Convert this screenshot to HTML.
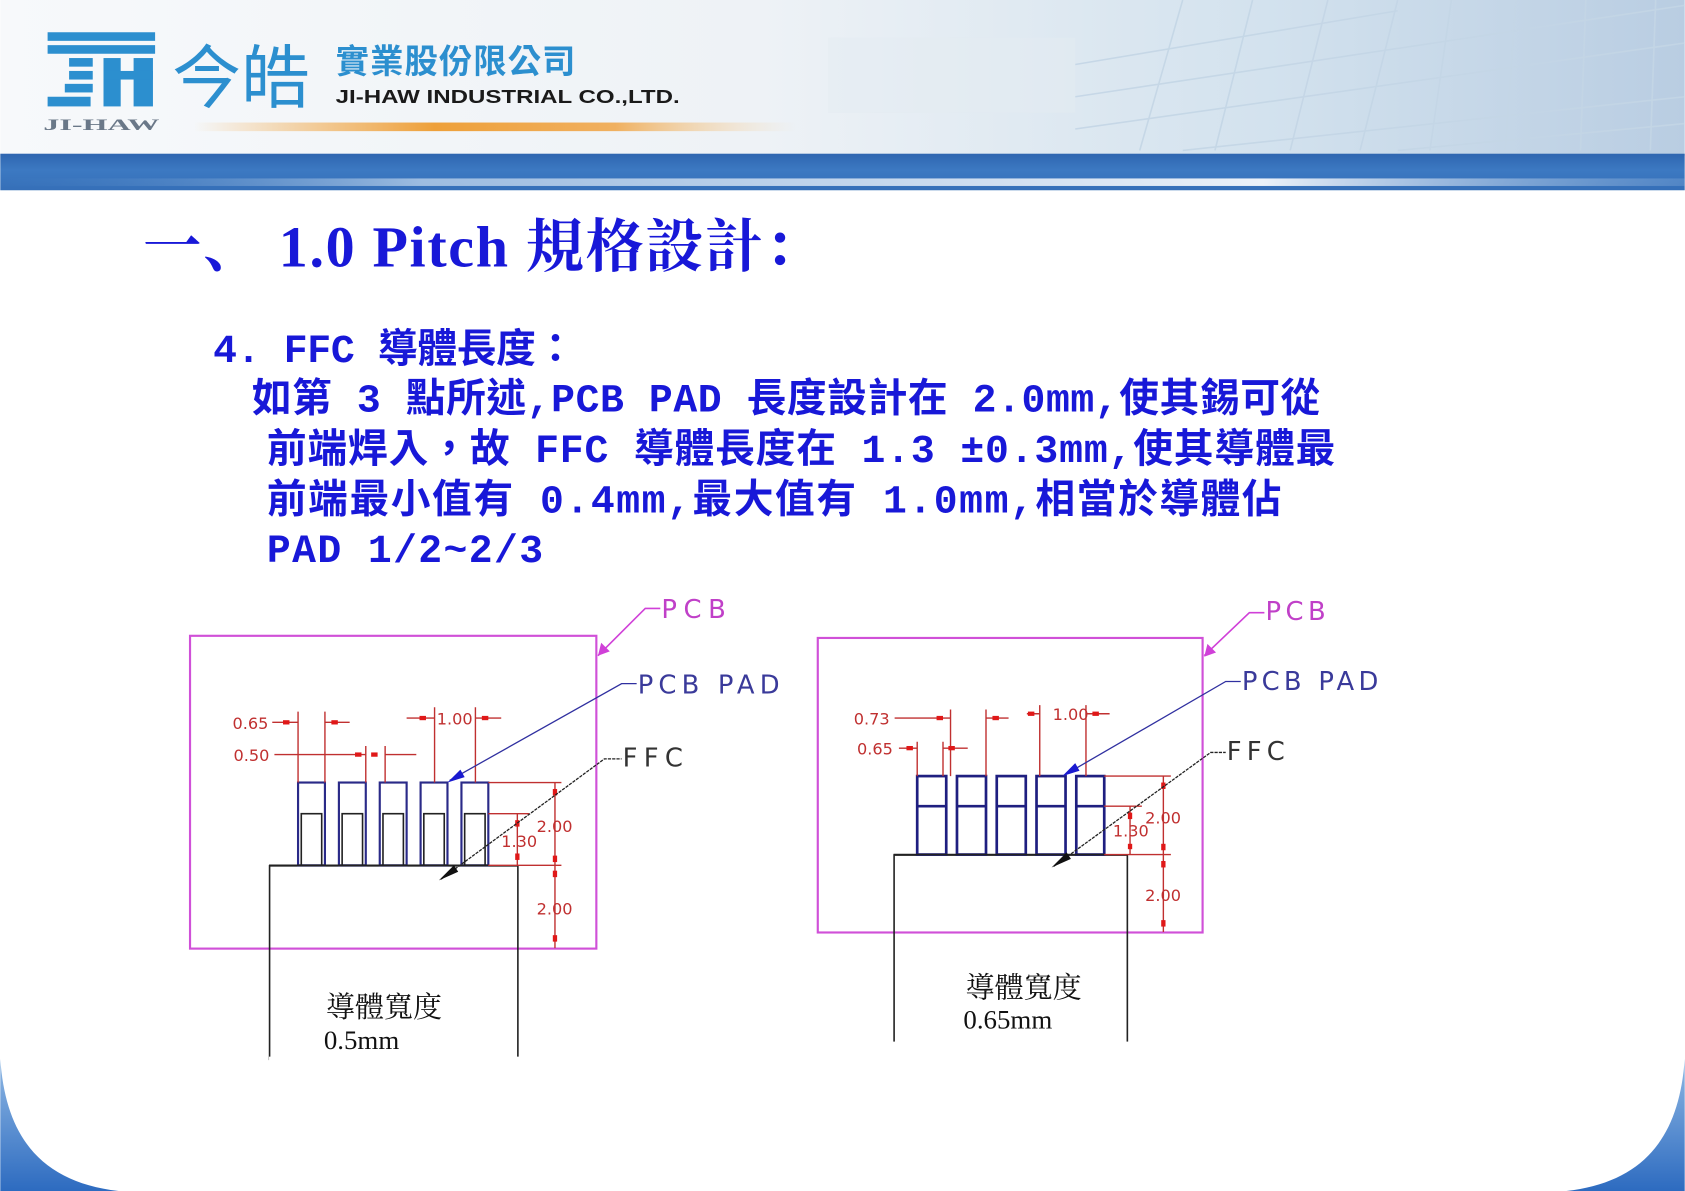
<!DOCTYPE html>
<html><head><meta charset="utf-8"><style>
html,body{margin:0;padding:0;background:#fff;}
svg{display:block;}
.cad{font-family:"DejaVu Sans","Liberation Sans",sans-serif;}
</style></head><body>
<svg width="1685" height="1191" viewBox="0 0 1567 1108" xmlns="http://www.w3.org/2000/svg">
<defs>
<linearGradient id="hdr" x1="0" y1="0" x2="1" y2="0">
<stop offset="0" stop-color="#f7f9fb"/><stop offset="0.45" stop-color="#eef2f6"/><stop offset="0.75" stop-color="#d3e2ee"/><stop offset="1" stop-color="#b9cde2"/></linearGradient>
<linearGradient id="band" x1="0" y1="0" x2="0" y2="1">
<stop offset="0" stop-color="#2f66b0"/><stop offset="0.45" stop-color="#3c79c2"/><stop offset="1" stop-color="#356fb8"/></linearGradient>
<linearGradient id="streak" x1="0" y1="0" x2="1" y2="0">
<stop offset="0" stop-color="#4f86c6" stop-opacity="0"/><stop offset="0.25" stop-color="#c9dcf0" stop-opacity="0.7"/><stop offset="0.75" stop-color="#ffffff" stop-opacity="0.9"/><stop offset="1" stop-color="#8fb3dd" stop-opacity="0.3"/></linearGradient>
<linearGradient id="orange" x1="0" y1="0" x2="1" y2="0">
<stop offset="0" stop-color="#f3a33a" stop-opacity="0"/><stop offset="0.4" stop-color="#eea03a"/><stop offset="0.7" stop-color="#f0b060"/><stop offset="1" stop-color="#f4d9b0" stop-opacity="0"/></linearGradient>
<linearGradient id="corner" x1="0" y1="0" x2="0" y2="1">
<stop offset="0" stop-color="#8fb8e4"/><stop offset="1" stop-color="#2d6bc0"/></linearGradient>
</defs>
<rect width="1567" height="1108" fill="#fff"/>
<rect x="0" y="0" width="1567" height="145" fill="url(#hdr)"/>
<g stroke="#c4d6e6" stroke-width="1.5" fill="none" opacity="0.9">
<path d="M1060 140 L1100 0 M1130 140 L1165 0 M1200 140 L1235 0 M1265 140 L1300 0 M1330 140 L1350 0 M1400 140 L1410 0 M1470 140 L1475 0 M1535 140 L1540 0"/>
<path d="M1000 120 L1567 40 M1000 90 L1567 5 M1000 60 L1300 10 M1100 140 L1567 90 M1300 140 L1567 115"/>
</g>
<rect x="770" y="35" width="230" height="70" fill="#e4ebf2" opacity="0.5"/>
<rect x="180" y="114" width="560" height="8" fill="url(#orange)"/>
<g fill="#2c8fcf">
<rect x="44" y="30" width="100" height="8"/><rect x="44" y="42" width="100" height="8"/>
<rect x="64" y="54" width="22" height="8"/><rect x="64" y="66" width="22" height="8"/><rect x="60" y="78" width="26" height="8"/><rect x="44" y="90" width="40" height="9"/>
<rect x="96" y="54" width="16" height="45"/><rect x="124" y="54" width="18" height="45"/><rect x="96" y="66" width="46" height="8"/>
</g>
<text x="40" y="121" font-family="Liberation Serif,serif" font-size="15" fill="#6a7888" font-weight="bold" textLength="108" lengthAdjust="spacingAndGlyphs">JI-HAW</text>
<text x="160" y="95" font-family="Noto Sans CJK TC,sans-serif" font-size="64" fill="#2c8fcf">今皓</text>
<text x="312" y="68" font-family="Noto Sans CJK TC,sans-serif" font-size="31" font-weight="bold" fill="#2c8fcf" textLength="223">實業股份限公司</text>
<text x="312" y="96" font-family="Liberation Sans,sans-serif" font-size="17" font-weight="bold" fill="#1a1a1a" textLength="320" lengthAdjust="spacingAndGlyphs">JI-HAW INDUSTRIAL CO.,LTD.</text>
<rect x="0" y="143" width="1567" height="34" fill="url(#band)"/>
<rect x="0" y="166" width="1567" height="7" fill="url(#streak)"/>
<text x="133" y="248" font-family="Liberation Serif,Noto Serif CJK SC,serif" font-size="54" font-weight="bold" fill="#1818d8" textLength="632">一、 1.0 Pitch 規格設計：</text>
<g font-family="Liberation Mono,Noto Sans CJK TC,monospace" font-size="37" font-weight="bold" fill="#1818d8">
<text x="198" y="337" textLength="337">4. FFC 導體長度：</text>
<text x="234" y="383" textLength="994">如第 3 點所述,PCB PAD 長度設計在 2.0mm,使其錫可從</text>
<text x="248" y="430" textLength="994">前端焊入，故 FFC 導體長度在 1.3 ±0.3mm,使其導體最</text>
<text x="248" y="477" textLength="944">前端最小值有 0.4mm,最大值有 1.0mm,相當於導體佔</text>
<text x="248" y="523" textLength="257">PAD 1/2~2/3</text>
</g>

<g fill="none">
<rect x="176.5" y="591.5" width="378" height="291" stroke="#d050d8" stroke-width="2"/>
<rect x="250.5" y="805.5" width="231" height="180" stroke="#222" stroke-width="1.5"/>
<rect x="250" y="983" width="240" height="10" fill="#fff" stroke="none"/>
<g stroke="#2a2a88" stroke-width="2">
<rect x="277" y="728" width="25" height="77"/><rect x="315" y="728" width="25" height="77"/><rect x="353" y="728" width="25" height="77"/><rect x="391" y="728" width="25" height="77"/><rect x="429" y="728" width="25" height="77"/>
</g>
<g stroke="#222" stroke-width="1.5">
<rect x="280" y="757" width="19" height="48"/><rect x="318" y="757" width="19" height="48"/><rect x="356" y="757" width="19" height="48"/><rect x="394" y="757" width="19" height="48"/><rect x="432" y="757" width="19" height="48"/>
<line x1="250" y1="805" x2="455" y2="805"/>
</g>
<g stroke="#c03030" stroke-width="1.3">
<path d="M277 728 V662 M302 728 V662 M340 728 V694 M358 728 V694 M404 728 V658 M442 728 V658"/>
<path d="M253 672 H277 M302 672 H325 M255 702 H340 M358 702 H387 M378 668 H404 M442 668 H466"/>
<path d="M454 728 H522 M454 757 H492 M454 805 H522 M516 728 V882 M481 757 V805"/>
</g>
<g fill="#e01818">
<rect x="263" y="670" width="6" height="4"/><rect x="308" y="670" width="6" height="4"/><rect x="330" y="700" width="6" height="4"/><rect x="345" y="700" width="6" height="4"/><rect x="390" y="666" width="6" height="4"/><rect x="448" y="666" width="6" height="4"/>
<rect x="514" y="734" width="4" height="6"/><rect x="514" y="796" width="4" height="6"/><rect x="514" y="810" width="4" height="6"/><rect x="514" y="870" width="4" height="6"/><rect x="479" y="763" width="4" height="6"/><rect x="479" y="794" width="4" height="6"/>
</g>
<g class="cad" fill="#c03030" font-size="15">
<text x="216" y="678">0.65</text><text x="217" y="708">0.50</text><text x="406" y="674">1.00</text>
<text x="499" y="774">2.00</text><text x="466" y="788">1.30</text><text x="499" y="851">2.00</text>
</g>
<path d="M556 610 L600 566 H614" stroke="#d040d8" stroke-width="1.5"/>
<path d="M556 610 l3 -12 l8 8 z" fill="#d040d8"/>
<path d="M418 726 L578 636 H592" stroke="#3030a0" stroke-width="1.2"/>
<path d="M416 728 l12 -12 l4 7 z" fill="#1a1ad0"/>
<path d="M410 818 L562 706 H578" stroke="#222" stroke-width="1.2" stroke-dasharray="3 1"/>
<path d="M408 819 l14 -14 l4 6 z" fill="#111"/>
<text x="615" y="575" class="cad" font-size="24" fill="#c040c8" textLength="60">PCB</text>
<text x="593" y="645" class="cad" font-size="24" fill="#3a3a9a" textLength="132">PCB PAD</text>
<text x="579" y="713" class="cad" font-size="24" fill="#333" textLength="56">FFC</text>
<text x="303" y="946" font-family="Noto Serif CJK SC,serif" font-size="27" fill="#111">導體寬度</text>
<text x="301" y="976" font-family="Liberation Serif,serif" font-size="25" fill="#111">0.5mm</text>
</g>

<g fill="none">
<rect x="760.5" y="593.5" width="358" height="274" stroke="#d050d8" stroke-width="2"/>
<rect x="831.5" y="795.5" width="217" height="180" stroke="#222" stroke-width="1.5"/>
<rect x="828" y="969" width="230" height="14" fill="#fff" stroke="none"/>
<g stroke="#1f1f80" stroke-width="2.5">
<rect x="853" y="722" width="27" height="73"/><rect x="890" y="722" width="27" height="73"/><rect x="927" y="722" width="27" height="73"/><rect x="964" y="722" width="27" height="73"/><rect x="1001" y="722" width="26" height="73"/>
<path d="M853 750 H880 M890 750 H917 M927 750 H954 M964 750 H991 M1001 750 H1027"/>
</g>
<line x1="831" y1="795" x2="1028" y2="795" stroke="#222" stroke-width="1.5"/>
<g stroke="#c03030" stroke-width="1.3">
<path d="M853 722 V690 M877 722 V690 M884 722 V660 M917 722 V660 M967 722 V656 M1010 722 V656"/>
<path d="M832 668 H884 M917 668 H938 M836 696 H853 M877 696 H900 M955 664 H967 M1010 664 H1032"/>
<path d="M1027 722 H1089 M1027 750 H1062 M1027 795 H1089 M1082 722 V867 M1051 750 V795"/>
</g>
<g fill="#e01818">
<rect x="871" y="666" width="6" height="4"/><rect x="923" y="666" width="6" height="4"/><rect x="843" y="694" width="6" height="4"/><rect x="882" y="694" width="6" height="4"/><rect x="956" y="662" width="6" height="4"/><rect x="1016" y="662" width="6" height="4"/>
<rect x="1080" y="728" width="4" height="6"/><rect x="1080" y="785" width="4" height="6"/><rect x="1080" y="801" width="4" height="6"/><rect x="1080" y="856" width="4" height="6"/><rect x="1049" y="756" width="4" height="6"/><rect x="1049" y="785" width="4" height="5"/>
</g>
<g class="cad" fill="#c03030" font-size="15">
<text x="794" y="674">0.73</text><text x="797" y="702">0.65</text><text x="979" y="670">1.00</text>
<text x="1065" y="766">2.00</text><text x="1035" y="778">1.30</text><text x="1065" y="838">2.00</text>
</g>
<path d="M1120 610 L1162 570 H1176" stroke="#d040d8" stroke-width="1.5"/>
<path d="M1120 611 l3 -12 l8 8 z" fill="#d040d8"/>
<path d="M990 721 L1140 634 H1154" stroke="#3030a0" stroke-width="1.2"/>
<path d="M988 722 l12 -12 l4 7 z" fill="#1a1ad0"/>
<path d="M980 806 L1126 700 H1140" stroke="#222" stroke-width="1.2" stroke-dasharray="3 1"/>
<path d="M978 807 l14 -14 l4 6 z" fill="#111"/>
<text x="1177" y="577" class="cad" font-size="24" fill="#c040c8" textLength="56">PCB</text>
<text x="1155" y="642" class="cad" font-size="24" fill="#3a3a9a" textLength="127">PCB PAD</text>
<text x="1141" y="707" class="cad" font-size="24" fill="#333" textLength="54">FFC</text>
<text x="898" y="928" font-family="Noto Serif CJK SC,serif" font-size="27" fill="#111">導體寬度</text>
<text x="896" y="957" font-family="Liberation Serif,serif" font-size="25" fill="#111">0.65mm</text>
</g>

<path d="M0 985 C5 1060 40 1100 110 1108 L0 1108 Z" fill="url(#corner)"/>
<path d="M1567 985 C1562 1060 1527 1100 1457 1108 L1567 1108 Z" fill="url(#corner)"/>
</svg>
</body></html>
